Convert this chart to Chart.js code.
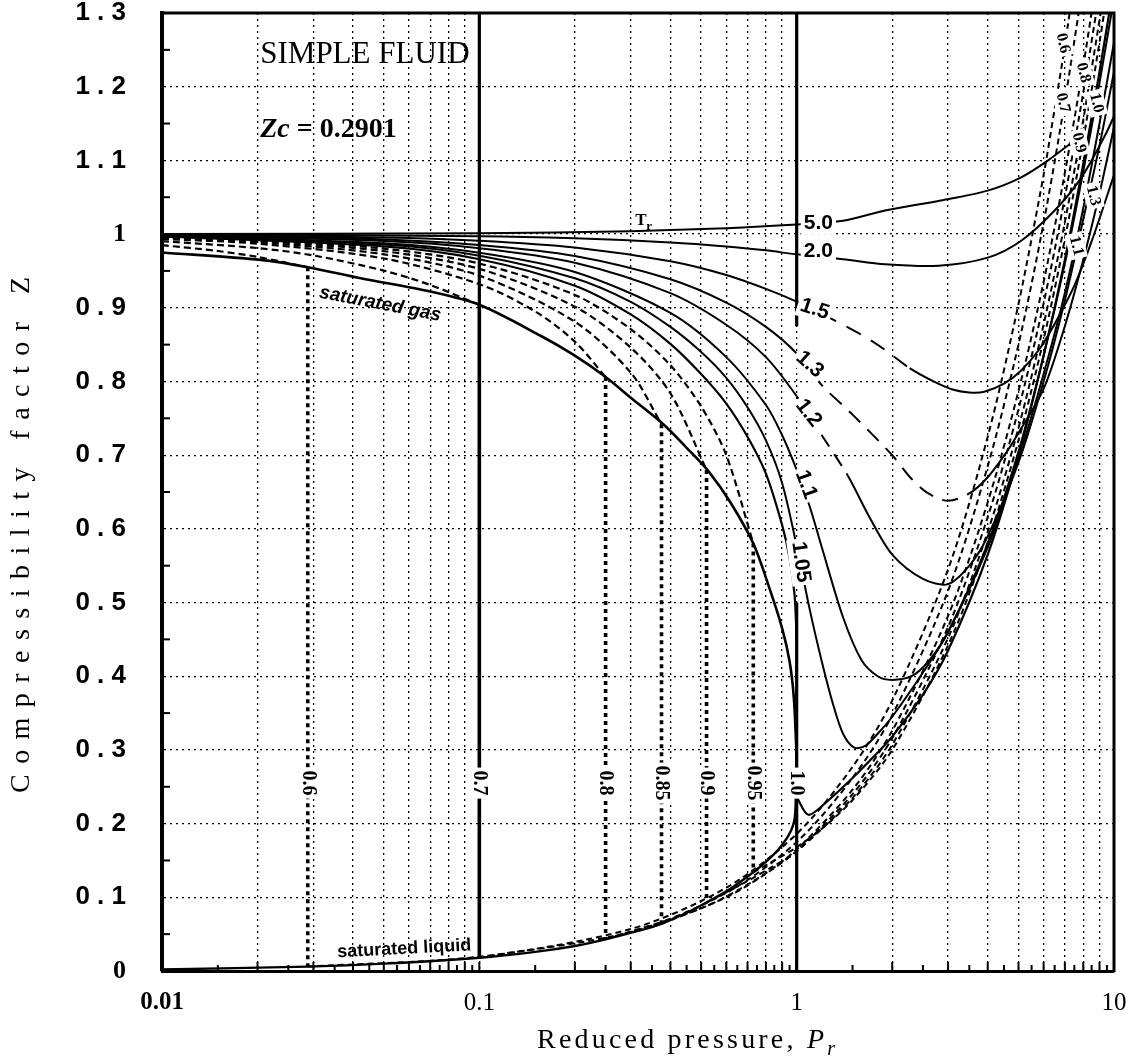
<!DOCTYPE html>
<html>
<head>
<meta charset="utf-8">
<script src="https://cdn.jsdelivr.net/npm/chart.js@4.4.1/dist/chart.umd.min.js"></script>
<style>
html,body{margin:0;padding:0;background:#fff;}
canvas{display:block;}
</style>
</head>
<body>
<canvas id="c" width="1145" height="1059"></canvas>
<script>
// ---------------- axis ticks ----------------
const xGridValues = [0.01,0.02,0.03,0.04,0.05,0.06,0.07,0.08,0.09,0.1,0.2,0.3,0.4,0.5,0.6,0.7,0.8,0.9,1,2,3,4,5,6,7,8,9,10];
const xLabelValues = [0.01, 0.1, 1, 10];
const xLabelTexts = ['0.01', '0.1', '1', '10'];
const yTickValues = [0,0.1,0.2,0.3,0.4,0.5,0.6,0.7,0.8,0.9,1,1.1,1.2,1.3];
const yTickTexts = ['0','0 . 1','0 . 2','0 . 3','0 . 4','0 . 5','0 . 6','0 . 7','0 . 8','0 . 9','1','1 . 1','1 . 2','1 . 3'];

// ---------------- saturation envelope ----------------
const satGasPr = [0.01,0.0205,0.0288,0.0423,0.07,0.1,0.156,0.2,0.25,0.3,0.38,0.45,0.53,0.62,0.73,0.82,0.9,0.95,0.98,1.0];
const satGasZ  = [0.975,0.965,0.955,0.94,0.922,0.904,0.862,0.835,0.806,0.778,0.742,0.71,0.677,0.635,0.58,0.52,0.465,0.42,0.37,0.29];
const satLiqPr = [0.01,0.0288,0.05,0.1,0.15,0.2,0.25,0.314,0.375,0.45,0.52,0.62,0.73,0.8,0.88,0.94,0.975,0.99,1.0];
const satLiqZ  = [0.002,0.006,0.01,0.018,0.026,0.034,0.043,0.054,0.064,0.079,0.093,0.112,0.134,0.148,0.166,0.183,0.198,0.215,0.29];

// ---------------- subcritical isotherms ----------------
const trSub   = ['0.6','0.7','0.8','0.85','0.9','0.95'];
const pSat    = [0.0288, 0.1, 0.25, 0.375, 0.52, 0.73];
const zSatVap = [0.955, 0.904, 0.806, 0.742, 0.68, 0.58];
const zSatLiq = [0.006, 0.018, 0.043, 0.064, 0.093, 0.134];

const gas06Pr = [0.01,0.015,0.02,0.0288];
const gas06Z  = [0.985,0.977,0.969,0.955];
const gas07Pr = [0.01,0.02,0.03,0.05,0.07,0.1];
const gas07Z  = [0.9904,0.981,0.971,0.9504,0.931,0.904];
const gas08Pr = [0.01,0.02,0.05,0.1,0.15,0.2,0.25];
const gas08Z  = [0.9935,0.987,0.9669,0.932,0.895,0.854,0.806];
const gas085Pr = [0.01,0.02,0.05,0.1,0.2,0.3,0.375];
const gas085Z  = [0.9946,0.989,0.9725,0.9436,0.881,0.812,0.742];
const gas09Pr = [0.01,0.02,0.05,0.1,0.2,0.3,0.4,0.52];
const gas09Z  = [0.9954,0.9908,0.9768,0.9528,0.9015,0.846,0.784,0.68];
const gas095Pr = [0.01,0.02,0.05,0.1,0.2,0.3,0.4,0.5,0.6,0.73];
const gas095Z  = [0.9961,0.9922,0.9803,0.96,0.9174,0.871,0.822,0.766,0.7,0.58];

const liq06Pr = [0.0288,0.1,0.3,0.6,1,1.5,2,3,4,5,6,6.5,7,7.3];
const liq06Z  = [0.006,0.0195,0.057,0.113,0.186,0.277,0.367,0.545,0.725,0.905,1.08,1.17,1.255,1.31];
const liq07Pr = [0.1,0.3,0.6,1,1.5,2,3,4,5,6,7,7.8];
const liq07Z  = [0.018,0.053,0.106,0.175,0.262,0.347,0.516,0.685,0.85,1.015,1.18,1.31];
const liq08Pr = [0.25,0.5,0.75,1,1.5,2,3,4,5,6,7,8,8.6];
const liq08Z  = [0.043,0.085,0.125,0.165,0.246,0.326,0.482,0.636,0.787,0.935,1.083,1.228,1.315];
const liq085Pr = [0.375,0.6,0.8,1,1.5,2,3,4,5,6,7,8,8.9];
const liq085Z  = [0.064,0.1,0.132,0.163,0.24,0.316,0.467,0.616,0.762,0.906,1.05,1.192,1.315];
const liq09Pr = [0.52,0.7,0.85,1,1.5,2,3,4,5,6,7,8,9,9.2];
const liq09Z  = [0.093,0.122,0.143,0.162,0.235,0.307,0.452,0.596,0.737,0.877,1.016,1.155,1.29,1.315];
const liq095Pr = [0.73,0.85,1,1.2,1.5,2,3,4,5,6,7,8,9,9.5];
const liq095Z  = [0.134,0.15,0.168,0.193,0.232,0.3,0.442,0.582,0.72,0.857,0.993,1.128,1.26,1.325];

// ---------------- critical & supercritical isotherms ----------------
const tr10GasPr = [0.01,0.05,0.1,0.2,0.3,0.4,0.5,0.6,0.7,0.8,0.9,0.95,0.985,1.0];
const tr10GasZ  = [0.9967,0.9832,0.9659,0.93,0.891,0.851,0.81,0.77,0.725,0.675,0.605,0.56,0.51,0.45];
const tr10HiPr  = [1.0,1.09,1.26,1.5,1.76,2,2.5,3,4,5,6,7,8,9,10];
const tr10HiZ   = [0.236,0.212,0.232,0.262,0.292,0.318,0.375,0.435,0.565,0.7,0.835,0.965,1.095,1.22,1.34];
const tr105Pr = [0.01,0.05,0.1,0.2,0.3,0.4,0.5,0.6,0.7,0.8,0.9,1.0,1.1,1.2,1.3,1.4,1.52,1.65,1.8,2,2.5,3,4,5,6,7,8,9,10];
const tr105Z  = [0.9971,0.9857,0.9707,0.94,0.908,0.874,0.84,0.805,0.765,0.72,0.662,0.577,0.49,0.42,0.363,0.322,0.303,0.306,0.322,0.345,0.405,0.46,0.58,0.705,0.835,0.96,1.085,1.205,1.32];
const tr11Pr = [0.01,0.05,0.1,0.2,0.4,0.6,0.8,0.9,1.0,1.1,1.2,1.4,1.6,1.8,2.0,2.3,2.6,3,4,5,6,7,8,9,10];
const tr11Z  = [0.9975,0.9876,0.9747,0.9485,0.893,0.833,0.768,0.727,0.68,0.63,0.575,0.48,0.422,0.4,0.395,0.4,0.42,0.46,0.575,0.695,0.81,0.92,1.035,1.15,1.26];
const tr12Pr = [0.01,0.05,0.1,0.2,0.4,0.6,0.8,1.0,1.2,1.45,1.7,2.0,2.5,3.0,3.5,4,5,6,7,8,9,10];
const tr12Z  = [0.9981,0.9906,0.9808,0.9611,0.9198,0.8769,0.833,0.78,0.727,0.672,0.615,0.565,0.532,0.525,0.55,0.59,0.69,0.8,0.91,1.02,1.12,1.22];
const tr13Pr = [0.01,0.05,0.1,0.2,0.4,0.6,0.8,1.0,1.2,1.5,2.0,2.3,2.6,3.0,3.5,4,4.6,5,6,7,8,9,10];
const tr13Z  = [0.9985,0.9927,0.9852,0.9702,0.9387,0.907,0.874,0.838,0.795,0.755,0.7,0.668,0.648,0.638,0.648,0.67,0.705,0.73,0.79,0.875,0.965,1.055,1.145];
const tr15Pr = [0.01,0.05,0.1,0.2,0.4,0.6,0.8,1.0,1.33,1.65,1.91,2.27,2.7,3.1,3.5,3.9,4.5,5.1,5.8,6.5,7.5,8.5,10];
const tr15Z  = [0.9991,0.9955,0.991,0.9818,0.963,0.9444,0.9256,0.9083,0.882,0.86,0.842,0.818,0.8,0.789,0.785,0.786,0.797,0.815,0.843,0.878,0.93,0.99,1.08];
const tr20Pr = [0.01,0.1,0.2,0.4,0.6,0.8,1.0,1.4,1.9,2.8,4,5.1,6.5,7.9,9.4,10];
const tr20Z  = [0.9997,0.9972,0.9943,0.9887,0.9833,0.9779,0.9725,0.966,0.959,0.957,0.968,0.991,1.032,1.077,1.135,1.16];
const tr50Pr = [0.01,0.1,0.3,0.6,1.0,1.4,1.9,2.8,4,5.1,6.2,7.4];
const tr50Z  = [1.0,1.001,1.004,1.008,1.013,1.018,1.032,1.045,1.059,1.077,1.1,1.125];

// heavy decade rules (Pr, Z pairs of segment ends)
const decadePr = [0.1, 0.1, 1, 1, 1, 1];
const decadeZ  = [1.3, 0.904, 1.3, 0.875, 0.5, 0];

// ---------------- text labels ----------------
const curveLabelText  = ['5.0','2.0','1.5','1.3','1.2','1.1','1.05'];
const curveLabelPr    = [1.17, 1.17, 1.14, 1.10, 1.09, 1.07, 1.03];
const curveLabelZ     = [1.015, 0.977, 0.898, 0.823, 0.757, 0.66, 0.555];
const curveLabelAngle = [0, 0, 18, 42, 52, 70, 82];
const vLabelText = ['0.6','0.7','0.8','0.85','0.9','0.95','1.0'];
const vLabelPr   = [0.0288, 0.1, 0.25, 0.375, 0.52, 0.73, 1.0];
const vLabelZ    = 0.255;
const rLabelText = ['0.6','0.8','0.7','1.0','0.9','1.3','1.1'];
const rLabelPr   = [6.9, 8.0, 6.9, 8.8, 7.75, 8.6, 7.6];
const rLabelZ    = [1.259, 1.219, 1.178, 1.178, 1.124, 1.052, 0.984];

// ---------------- build datasets ----------------
const pts = (xs, ys) => xs.map((x, i) => ({x: x, y: ys[i]}));
function line(label, xs, ys, opts) {
  return Object.assign({
    label: label, data: pts(xs, ys), borderColor: '#000', backgroundColor: '#000',
    borderWidth: 2, pointRadius: 0, fill: false, tension: 0.3, spanGaps: false
  }, opts || {});
}
const dashRange = (lo, hi, pattern) => ({
  borderDash: c => (c.p0.parsed.x >= lo - 1e-9 && c.p1.parsed.x <= hi + 1e-9) ? pattern : undefined
});

const gasPr = [gas06Pr, gas07Pr, gas08Pr, gas085Pr, gas09Pr, gas095Pr];
const gasZ  = [gas06Z, gas07Z, gas08Z, gas085Z, gas09Z, gas095Z];
const liqPr = [liq06Pr, liq07Pr, liq08Pr, liq085Pr, liq09Pr, liq095Pr];
const liqZ  = [liq06Z, liq07Z, liq08Z, liq085Z, liq09Z, liq095Z];

const datasets = [];
datasets.push(line('saturated gas', satGasPr, satGasZ, {borderWidth: 2.6}));
datasets.push(line('saturated liquid', satLiqPr, satLiqZ, {borderWidth: 2.4}));
trSub.forEach((t, i) => {
  datasets.push(line('Tr ' + t + ' gas', gasPr[i], gasZ[i], {borderWidth: 2.2, borderDash: [7, 4]}));
  datasets.push(line('Tr ' + t + ' liquid', liqPr[i], liqZ[i], {borderWidth: 2, borderDash: [6, 4]}));
  datasets.push(line('Tr ' + t + ' two-phase', [pSat[i], pSat[i]], [zSatVap[i], zSatLiq[i]],
    {borderWidth: 3.6, tension: 0, borderDash: i === 1 ? [] : [4, 4]}));
});
datasets.push(line('Tr 1.0', tr10GasPr, tr10GasZ, {borderWidth: 2.2}));
datasets.push(line('Tr 1.0 dense', tr10HiPr, tr10HiZ, {borderWidth: 2.2}));
datasets.push(line('Tr 1.05', tr105Pr, tr105Z));
datasets.push(line('Tr 1.1', tr11Pr, tr11Z));
datasets.push(line('Tr 1.2', tr12Pr, tr12Z, {segment: dashRange(1.0, 1.45, [14, 9])}));
datasets.push(line('Tr 1.3', tr13Pr, tr13Z, {segment: dashRange(1.0, 3.5, [16, 10])}));
datasets.push(line('Tr 1.5', tr15Pr, tr15Z, {segment: dashRange(1.0, 2.27, [16, 12])}));
datasets.push(line('Tr 2.0', tr20Pr, tr20Z));
datasets.push(line('Tr 5.0', tr50Pr, tr50Z));
for (let k = 0; k < decadePr.length; k += 2) {
  datasets.push(line('decade', [decadePr[k], decadePr[k + 1]], [decadeZ[k], decadeZ[k + 1]], {borderWidth: 3.2, tension: 0}));
}

// ---------------- decoration plugin ----------------
const SERIF = '"Liberation Serif", "DejaVu Serif", serif';
const SANS = '"Liberation Sans", "DejaVu Sans", sans-serif';

function drawLabel(ctx, text, px, py, deg, font, bg) {
  ctx.save();
  ctx.translate(px, py);
  ctx.rotate(deg * Math.PI / 180);
  ctx.font = font;
  ctx.textAlign = 'center';
  ctx.textBaseline = 'middle';
  if (bg) {
    const w = ctx.measureText(text).width;
    const h = parseFloat(font.match(/(\d+(\.\d+)?)px/)[1]);
    ctx.fillStyle = '#fff';
    ctx.fillRect(-w / 2 - 3, -h * 0.55, w + 6, h * 1.1);
  }
  ctx.fillStyle = '#000';
  ctx.fillText(text, 0, 0);
  ctx.restore();
}

// draws a run of text pieces char by char, stretched to a target width
function drawSpacedRun(ctx, pieces, startX, baseY, targetW) {
  let natural = 0, n = 0;
  pieces.forEach(p => { ctx.font = p.font; for (const ch of p.text) { natural += ctx.measureText(ch).width; n++; } });
  const sp = n > 1 ? Math.max(0, (targetW - natural) / (n - 1)) : 0;
  let x = startX;
  pieces.forEach(p => {
    ctx.font = p.font;
    for (const ch of p.text) {
      ctx.fillText(ch, x, baseY + (p.dy || 0));
      x += ctx.measureText(ch).width + sp;
    }
  });
}

const decor = {
  id: 'decor',
  afterDatasetsDraw(chart) {
    const {ctx, chartArea: a, scales: {x, y}} = chart;
    ctx.save();
    ctx.fillStyle = '#000';
    ctx.strokeStyle = '#000';
    // top and right frame
    ctx.lineWidth = 3;
    ctx.beginPath();
    ctx.moveTo(a.left - 2, a.top);
    ctx.lineTo(a.right, a.top);
    ctx.lineTo(a.right, a.bottom + 1);
    ctx.stroke();
    // inward minor ticks on left axis (between gridlines)
    ctx.lineWidth = 2;
    for (let i = 0; i < yTickValues.length - 1; i++) {
      const py = y.getPixelForValue((yTickValues[i] + yTickValues[i + 1]) / 2);
      ctx.beginPath(); ctx.moveTo(a.left, py); ctx.lineTo(a.left + 8, py); ctx.stroke();
    }
    // inward ticks on bottom axis
    for (let i = 0; i < xGridValues.length - 1; i++) {
      const v = xGridValues[i], w = xGridValues[i + 1];
      const p1 = x.getPixelForValue(v), pm = x.getPixelForValue((v + w) / 2);
      ctx.beginPath(); ctx.moveTo(p1, a.bottom); ctx.lineTo(p1, a.bottom - 9); ctx.stroke();
      ctx.beginPath(); ctx.moveTo(pm, a.bottom); ctx.lineTo(pm, a.bottom - 6); ctx.stroke();
    }
    // isotherm labels near Pr = 1
    curveLabelText.forEach((t, i) => {
      drawLabel(ctx, t, x.getPixelForValue(curveLabelPr[i]), y.getPixelForValue(curveLabelZ[i]),
        curveLabelAngle[i], 'bold 21px ' + SANS, true);
    });
    // vertical two-phase labels
    vLabelText.forEach((t, i) => {
      drawLabel(ctx, t, x.getPixelForValue(vLabelPr[i]), y.getPixelForValue(vLabelZ), 90, 'bold 20px ' + SERIF, true);
    });
    // labels of the high-pressure branches
    rLabelText.forEach((t, i) => {
      drawLabel(ctx, t, x.getPixelForValue(rLabelPr[i]), y.getPixelForValue(rLabelZ[i]), 76, 'bold 16px ' + SERIF, true);
    });
    // Tr marker
    {
      const px = x.getPixelForValue(0.31), py = y.getPixelForValue(1.012);
      ctx.textAlign = 'left'; ctx.textBaseline = 'alphabetic';
      ctx.font = 'bold 17px ' + SERIF; ctx.fillText('T', px, py);
      ctx.font = 'bold 13px ' + SERIF; ctx.fillText('r', px + 11, py + 5);
    }
    // saturated gas / liquid
    drawLabel(ctx, 'saturated gas', x.getPixelForValue(0.0487), y.getPixelForValue(0.905), 11, 'bold italic 19px ' + SANS, false);
    drawLabel(ctx, 'saturated liquid', x.getPixelForValue(0.058), y.getPixelForValue(0.03), -3, 'bold 18px ' + SANS, false);
    // SIMPLE FLUID, Zc
    {
      const px = x.getPixelForValue(0.0204);
      ctx.textAlign = 'left'; ctx.textBaseline = 'alphabetic';
      ctx.font = '31px ' + SERIF;
      ctx.fillText('SIMPLE FLUID', px, y.getPixelForValue(1.232));
      const by = y.getPixelForValue(1.132);
      ctx.font = 'bold italic 28px ' + SERIF;
      ctx.fillText('Zc', px, by);
      const w = ctx.measureText('Zc').width;
      ctx.font = 'bold 28px ' + SERIF;
      ctx.fillText(' = 0.2901', px + w, by);
    }
    ctx.restore();
  },
  afterDraw(chart) {
    const {ctx} = chart;
    ctx.save();
    ctx.fillStyle = '#000';
    ctx.textAlign = 'left';
    ctx.textBaseline = 'alphabetic';
    // x-axis title
    drawSpacedRun(ctx, [
      {text: 'Reduced pressure, ', font: '28px ' + SERIF},
      {text: 'P', font: 'italic 28px ' + SERIF},
      {text: 'r', font: 'italic 20px ' + SERIF, dy: 7}
    ], 537, 1048, 298);
    // y-axis title
    ctx.translate(29, 535);
    ctx.rotate(-Math.PI / 2);
    drawSpacedRun(ctx, [{text: 'Compressibility factor Z', font: '28px ' + SERIF}], -258, 0, 516);
    ctx.restore();
  }
};

new Chart(document.getElementById('c'), {
  type: 'line',
  data: {datasets: datasets},
  options: {
    responsive: false,
    animation: false,
    devicePixelRatio: 1,
    layout: {padding: {left: 0, right: 31, top: 13, bottom: 0}},
    plugins: {legend: {display: false}, tooltip: {enabled: false}, title: {display: false}},
    scales: {
      x: {
        type: 'logarithmic', min: 0.01, max: 10,
        afterBuildTicks: s => { s.ticks = xGridValues.map(v => ({value: v})); },
        afterFit: s => { s.height = 88; s.paddingLeft = 0; s.paddingRight = 0; },
        grid: {color: '#000', lineWidth: 1.3, drawTicks: false},
        border: {display: true, color: '#000', width: 3, dash: [2, 4]},
        ticks: {
          autoSkip: false, maxRotation: 0, minRotation: 0, padding: 17, color: '#000',
          font: c => ({family: SERIF, size: 25, weight: (c.tick && Math.abs(c.tick.value - 0.01) < 1e-9) ? 'bold' : 'normal'}),
          callback: v => {
            const k = xLabelValues.findIndex(d => Math.abs(Math.log10(d) - Math.log10(v)) < 1e-6);
            return k >= 0 ? xLabelTexts[k] : '';
          }
        }
      },
      y: {
        type: 'linear', min: 0, max: 1.3,
        afterBuildTicks: s => { s.ticks = yTickValues.map(v => ({value: v})); },
        afterFit: s => { s.width = 162; s.paddingTop = 0; s.paddingBottom = 0; },
        grid: {color: '#000', lineWidth: 1.3, drawTicks: false},
        border: {display: true, color: '#000', width: 4, dash: [2, 4]},
        ticks: {
          padding: 36, color: '#000',
          font: c => ({family: (c.tick && (c.tick.value === 0 || c.tick.value === 1)) ? SERIF : SANS, size: 26, weight: 'bold'}),
          callback: (v, i) => yTickTexts[i]
        }
      }
    }
  },
  plugins: [decor]
});
</script>
</body>
</html>
